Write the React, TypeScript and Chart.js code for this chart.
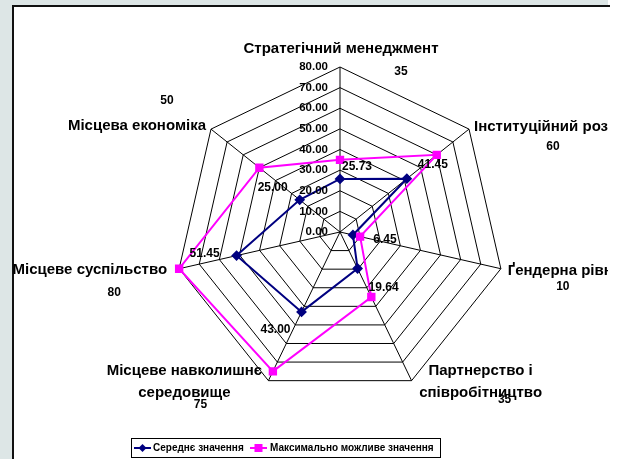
import React, { useEffect, useRef } from "react";
import { Chart, registerables } from "chart.js";

Chart.register(...registerables);

const CATEGORIES: string[][] = [
  ["Стратегічний менеджмент"],
  ["Інституційний розвиток"],
  ["Ґендерна рівність"],
  ["Партнерство і", "співробітництво"],
  ["Місцеве навколишнє", "середовище"],
  ["Місцеве суспільство"],
  ["Місцева економіка"],
];
const AVERAGE_VALUES = [25.73, 41.45, 6.45, 19.64, 43.0, 51.45, 25.0];
const MAX_VALUES = [35, 60, 10, 35, 75, 80, 50];
const AVERAGE_LABELS = ["25.73", "41.45", "6.45", "19.64", "43.00", "51.45", "25.00"];
const MAX_LABELS = ["35", "60", "10", "35", "75", "80", "50"];
const TICK_LABELS = ["0.00", "10.00", "20.00", "30.00", "40.00", "50.00", "60.00", "70.00", "80.00"];
const SERIES_NAMES = ["Середнє значення", "Максимально можливе значення"];

const NAVY = "#000080";
const MAGENTA = "#FF00FF";
const FONT = '"Liberation Sans", Arial, sans-serif';

// label placement relative to the scale-computed vertex / point (layout only)
const CAT_PLACE: { align: CanvasTextAlign; dx: number; dy: number }[] = [
  { align: "center", dx: 1, dy: -18 },
  { align: "left", dx: 5, dy: -2 },
  { align: "left", dx: 7, dy: 2 },
  { align: "center", dx: 69, dy: 1 },
  { align: "center", dx: -84, dy: 1 },
  { align: "right", dx: -12, dy: 1 },
  { align: "right", dx: -5, dy: -3 },
];
const MAX_LABEL_OFFSETS = [
  [61, 5], [84, 18], [62, 18], [93, 19], [-68, 24], [-65, 24], [-44, -28],
];
const AVG_LABEL_OFFSETS = [
  [17, -12], [26, -14], [32, 5], [26, 19], [-26, 18], [-32, -2], [-27, -12],
];

const labelsPlugin = {
  id: "excelLabels",
  beforeDatasetsDraw(chart: any) {
    const ctx: CanvasRenderingContext2D = chart.ctx;
    const scale = chart.scales.r;
    ctx.save();
    ctx.fillStyle = "#000";
    ctx.textBaseline = "middle";
    ctx.font = `bold 15px ${FONT}`;
    CATEGORIES.forEach((lines, i) => {
      const p = scale.getPointPosition(i, scale.drawingArea);
      const pl = CAT_PLACE[i];
      ctx.textAlign = pl.align;
      const lh = 21.5;
      const y0 = p.y + pl.dy - ((lines.length - 1) * lh) / 2;
      lines.forEach((ln, j) => ctx.fillText(ln, p.x + pl.dx, y0 + j * lh));
    });
    ctx.restore();
  },
  afterDatasetsDraw(chart: any) {
    const ctx: CanvasRenderingContext2D = chart.ctx;
    const scale = chart.scales.r;
    ctx.save();
    ctx.fillStyle = "#000";
    ctx.textBaseline = "middle";

    // tick labels
    ctx.font = `bold 11.5px ${FONT}`;
    ctx.textAlign = "right";
    scale.ticks.forEach((t: any, i: number) => {
      const d = scale.getDistanceFromCenterForValue(t.value);
      ctx.fillText(TICK_LABELS[i] ?? String(t.value), scale.xCenter - 12, scale.yCenter - d);
    });

    // data labels
    ctx.font = `bold 12px ${FONT}`;
    ctx.textAlign = "center";
    MAX_VALUES.forEach((v, i) => {
      const p = scale.getPointPosition(i, scale.drawingArea);
      const o = MAX_LABEL_OFFSETS[i];
      ctx.fillText(MAX_LABELS[i], p.x + o[0], p.y + o[1]);
    });
    AVERAGE_VALUES.forEach((v, i) => {
      const p = scale.getPointPositionForValue(i, v);
      const o = AVG_LABEL_OFFSETS[i];
      ctx.fillText(AVERAGE_LABELS[i], p.x + o[0], p.y + o[1]);
    });

    // legend
    const bx = 131.5, by = 438.5, bw = 309, bh = 19;
    ctx.strokeStyle = "#000";
    ctx.lineWidth = 1;
    ctx.strokeRect(bx, by, bw, bh);
    const cy = by + bh / 2;
    ctx.font = `bold 10px ${FONT}`;
    ctx.textAlign = "left";
    // series 1
    ctx.strokeStyle = NAVY;
    ctx.lineWidth = 2;
    ctx.beginPath();
    ctx.moveTo(134, cy);
    ctx.lineTo(151, cy);
    ctx.stroke();
    ctx.fillStyle = NAVY;
    ctx.beginPath();
    ctx.moveTo(142.5, cy - 4);
    ctx.lineTo(146.5, cy);
    ctx.lineTo(142.5, cy + 4);
    ctx.lineTo(138.5, cy);
    ctx.closePath();
    ctx.fill();
    ctx.fillStyle = "#000";
    ctx.fillText(SERIES_NAMES[0], 153, cy);
    // series 2
    ctx.strokeStyle = MAGENTA;
    ctx.beginPath();
    ctx.moveTo(250, cy);
    ctx.lineTo(267, cy);
    ctx.stroke();
    ctx.fillStyle = MAGENTA;
    ctx.fillRect(254.5, cy - 4, 8, 8);
    ctx.fillStyle = "#000";
    ctx.fillText(SERIES_NAMES[1], 270, cy);

    ctx.restore();
  },
};

export default function App() {
  const ref = useRef<HTMLCanvasElement | null>(null);
  useEffect(() => {
    if (!ref.current) return;
    const chart = new Chart(ref.current, {
      type: "radar",
      data: {
        labels: CATEGORIES,
        datasets: [
          {
            label: SERIES_NAMES[0],
            data: AVERAGE_VALUES,
            borderColor: NAVY,
            backgroundColor: NAVY,
            pointBackgroundColor: NAVY,
            pointBorderColor: NAVY,
            pointStyle: "rectRot",
            pointRadius: 4,
            borderWidth: 2,
            fill: false,
            order: 1,
          },
          {
            label: SERIES_NAMES[1],
            data: MAX_VALUES,
            borderColor: MAGENTA,
            backgroundColor: MAGENTA,
            pointBackgroundColor: MAGENTA,
            pointBorderColor: MAGENTA,
            pointStyle: "rect",
            pointRadius: 4.5,
            borderWidth: 2,
            fill: false,
            order: 0,
          },
        ],
      },
      options: {
        animation: false,
        responsive: false,
        maintainAspectRatio: false,
        layout: { padding: { left: 175, right: 103, top: 67, bottom: 62 } },
        plugins: { legend: { display: false }, tooltip: { enabled: false } },
        scales: {
          r: {
            min: 0,
            max: 80,
            ticks: { display: false, stepSize: 10 },
            grid: { color: "#000", lineWidth: 1 },
            angleLines: { color: "#000", lineWidth: 1 },
            pointLabels: { display: false },
          },
        },
      },
      plugins: [labelsPlugin],
    });
    return () => chart.destroy();
  }, []);

  return (
    <div style={{ position: "fixed", left: 0, top: 0, width: 617, height: 459, background: "#fff", overflow: "hidden" }}>
      <div style={{ position: "absolute", left: 0, top: 0, width: 608, height: 459, background: "#dde6e6" }} />
      <div
        style={{
          position: "absolute",
          left: 12,
          top: 5,
          width: 596,
          height: 460,
          background: "#fff",
          borderLeft: "2px solid #111",
          borderTop: "2px solid #111",
        }}
      />
      <canvas ref={ref} width={608} height={459} style={{ position: "absolute", left: 0, top: 0, width: 608, height: 459 }} />
    </div>
  );
}
